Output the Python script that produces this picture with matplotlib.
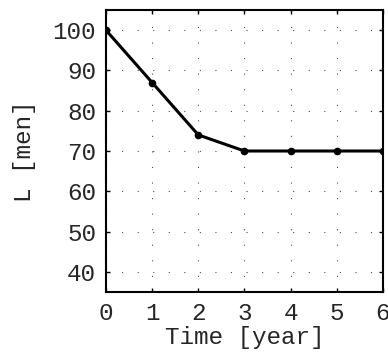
import matplotlib
matplotlib.use("Agg")
import matplotlib.pyplot as plt

years = [0, 1, 2, 3, 4, 5, 6]
labour = [100, 87, 74, 70, 70, 70, 70]
xticks = [0, 1, 2, 3, 4, 5, 6]
yticks = [40, 50, 60, 70, 80, 90, 100]

plt.rcParams["font.family"] = ["Liberation Mono", "DejaVu Sans Mono"]

fig = plt.figure(figsize=(3.88, 3.57), dpi=100)
ax = fig.add_axes([0.273, 0.182, 0.714, 0.790])

ax.plot(years, labour, color="black", linewidth=2.2, marker="o", markersize=4.5)

ax.set_xlim(0, 6)
ax.set_ylim(35, 105)
ax.set_xticks(xticks)
ax.set_yticks(yticks)
ax.tick_params(direction="in", top=True, right=True, labelsize=17.5, length=3, width=1,
               pad=7, labelcolor="0.15")
ax.grid(True, linestyle=(0, (1, 13)), color="0.3", linewidth=0.8)
for s in ax.spines.values():
    s.set_linewidth(1.5)

ax.set_xlabel("Time [year]", fontsize=17.5, labelpad=1, color="0.15")
ax.set_ylabel("L [men]", fontsize=17.5, labelpad=12, color="0.15")

fig.savefig("out.png", dpi=100)
